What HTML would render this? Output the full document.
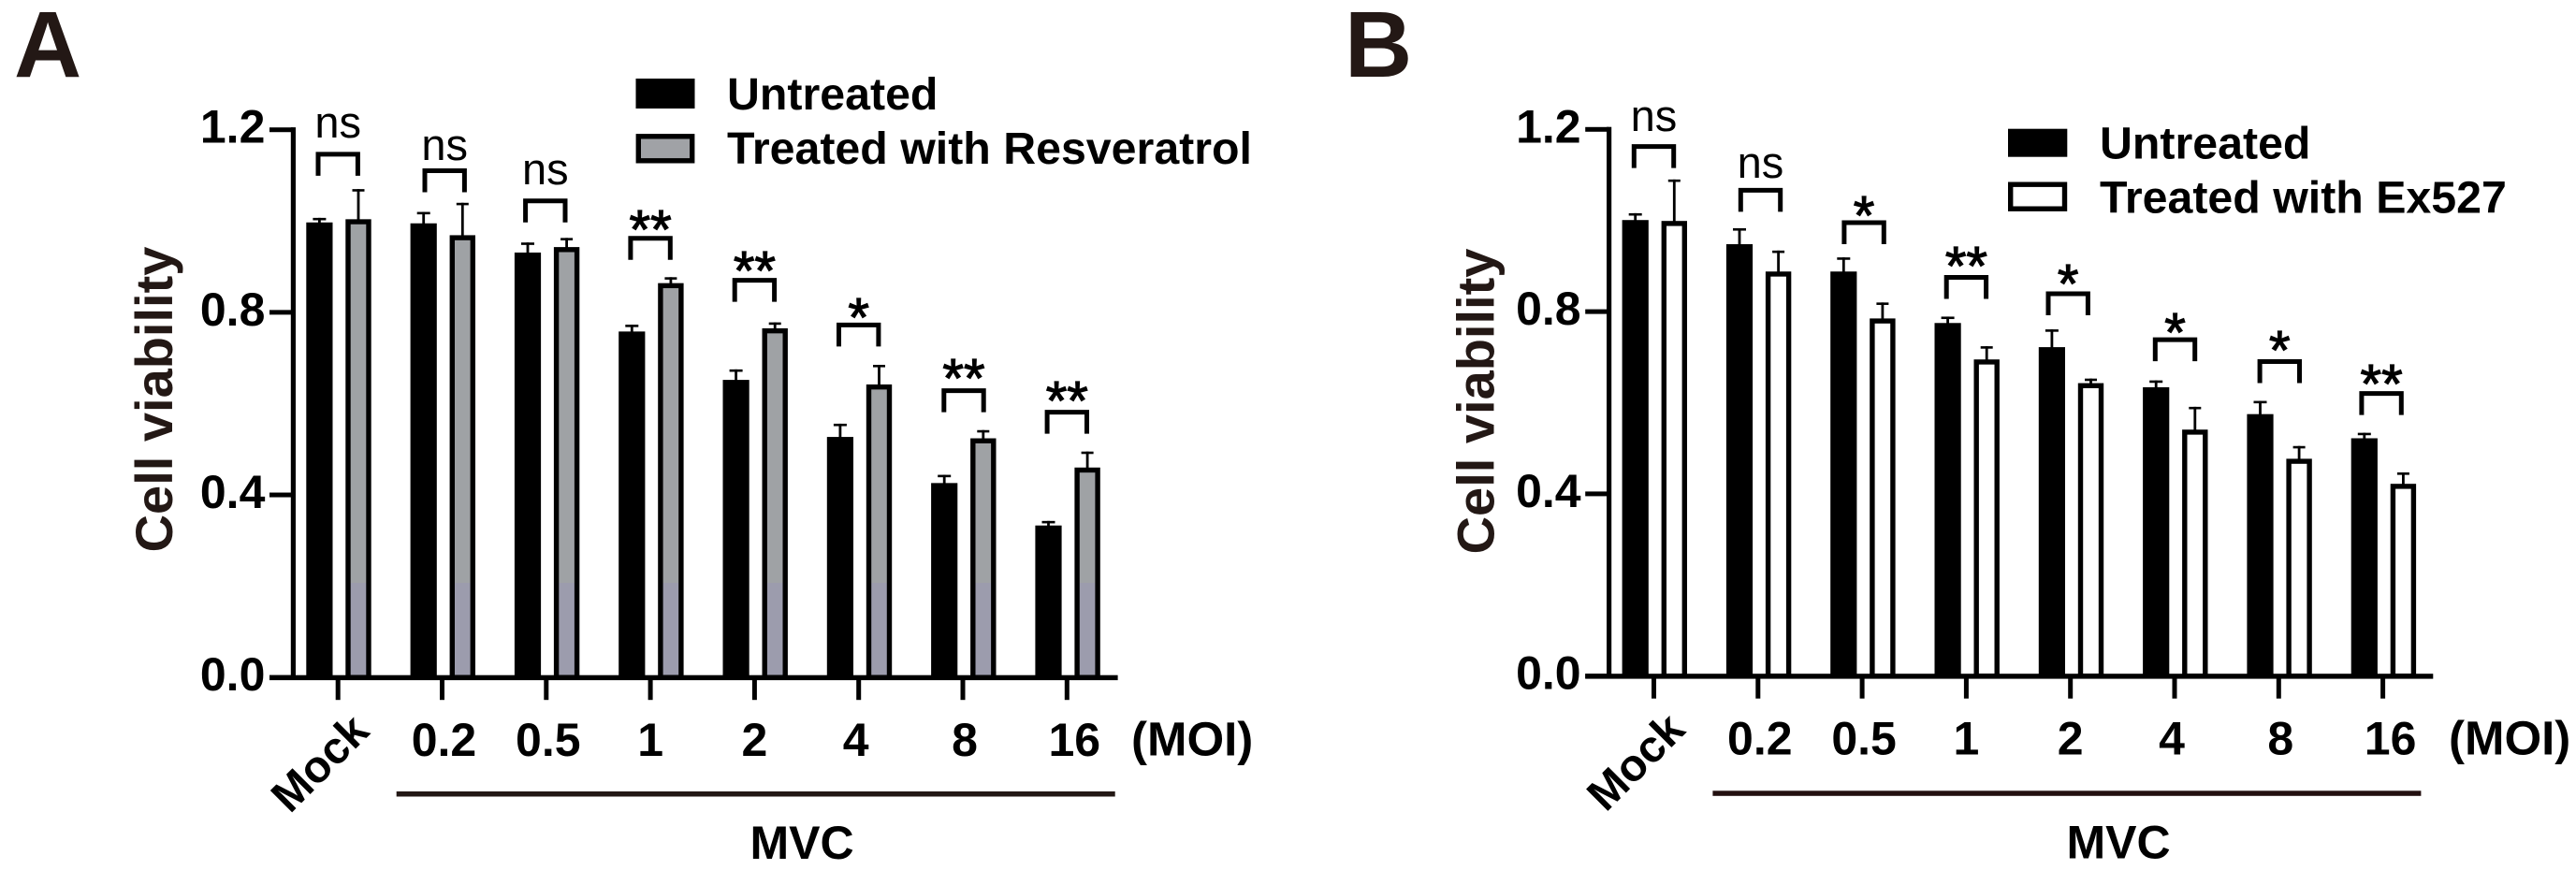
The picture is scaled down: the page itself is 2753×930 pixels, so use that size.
<!DOCTYPE html>
<html lang="en">
<head>
<meta charset="utf-8">
<title>Cell viability charts</title>
<style>
html,body{margin:0;padding:0;background:#fff;}
svg{display:block;}
text{font-family:"Liberation Sans",Arial,sans-serif;}
.b{font-weight:bold;}
</style>
</head>
<body>
<svg id="figure" xmlns="http://www.w3.org/2000/svg" width="2753" height="930" viewBox="0 0 2753 930">
  <defs>
    <linearGradient id="grayFill" gradientUnits="userSpaceOnUse" x1="0" y1="0" x2="0" y2="930">
      <stop offset="0.67" stop-color="#9fa2a5"/>
      <stop offset="0.67" stop-color="#9c9cad"/>
    </linearGradient>
  </defs>
  <rect width="2753" height="930" fill="#fff"/>

  <text class="b" x="15" y="82" font-size="100" fill="#231815">A</text>
  <text class="b" x="1437" y="82" font-size="100" fill="#231815">B</text>

  <text class="b" font-size="56" fill="#231815" text-anchor="middle" transform="translate(184 427) rotate(-90)">Cell viability</text>
  <text class="b" font-size="56" fill="#231815" text-anchor="middle" transform="translate(1596.5 429) rotate(-90)">Cell viability</text>

  <g>
    <rect x="679.5" y="84" width="63" height="32" fill="#000"/>
    <text class="b" x="777" y="117" font-size="48.3" fill="#000">Untreated</text>
    <rect x="682.3" y="145.8" width="57.4" height="26" fill="#a0a2a6" stroke="#000" stroke-width="5.4"/>
    <text class="b" x="777" y="175" font-size="48.3" fill="#000">Treated with Resveratrol</text>
  </g>
  <g>
    <rect x="2146" y="137.7" width="63.3" height="30" fill="#000"/>
    <text class="b" x="2244" y="169.3" font-size="48.3" fill="#000">Untreated</text>
    <rect x="2148.7" y="197.2" width="57.8" height="26" fill="#fff" stroke="#000" stroke-width="5.4"/>
    <text class="b" x="2244" y="227.7" font-size="48.3" fill="#000">Treated with Ex527</text>
  </g>

  <text class="b" x="1209" y="807.7" font-size="51" fill="#000">(MOI)</text>
  <text class="b" x="2617" y="806.7" font-size="51" fill="#000">(MOI)</text>

  <rect x="423.7" y="846" width="768" height="5.5" fill="#231815"/>
  <rect x="1830.4" y="845.3" width="757" height="5.5" fill="#231010"/>
  <text class="b" x="857" y="918" font-size="50" text-anchor="middle" fill="#000">MVC</text>
  <text class="b" x="2264" y="917.7" font-size="50" text-anchor="middle" fill="#000">MVC</text>

  <g id="chart-a"></g>
  <g id="chart-b"></g>
</svg>

<script>
// Shared categories and axis ticks
const categories = ["Mock", "0.2", "0.5", "1", "2", "4", "8", "16"];
const yTickValues = [0, 0.4, 0.8, 1.2];
const yTickLabels = ["0.0", "0.4", "0.8", "1.2"];

// Panel A values
const untreatedMeanA = [0.997, 0.995, 0.931, 0.758, 0.652, 0.527, 0.426, 0.333];
const untreatedSdA = [0.010, 0.025, 0.022, 0.015, 0.023, 0.029, 0.018, 0.010];
const treatedMeanA = [1.004, 0.969, 0.943, 0.864, 0.765, 0.642, 0.524, 0.460];
const treatedSdA = [0.066, 0.071, 0.020, 0.013, 0.013, 0.043, 0.018, 0.035];
const sigLabelsA = ["ns", "ns", "ns", "**", "**", "*", "**", "**"];
const bracketLevelA = [1.151, 1.115, 1.049, 0.967, 0.875, 0.777, 0.633, 0.586];
const sigTextLevelA = [1.183, 1.134, 1.081, 0.940, 0.850, 0.747, 0.614, 0.565];

// Panel B values
const untreatedMeanB = [1.001, 0.948, 0.888, 0.775, 0.722, 0.634, 0.575, 0.522];
const untreatedSdB = [0.015, 0.035, 0.031, 0.014, 0.039, 0.015, 0.029, 0.012];
const treatedMeanB = [0.999, 0.888, 0.785, 0.695, 0.643, 0.541, 0.477, 0.422];
const treatedSdB = [0.091, 0.046, 0.035, 0.029, 0.010, 0.050, 0.028, 0.025];
const sigLabelsB = ["ns", "ns", "*", "**", "*", "*", "*", "**"];
const bracketLevelB = [1.167, 1.071, 1.000, 0.880, 0.844, 0.743, 0.695, 0.625];
const sigTextLevelB = [1.196, 1.094, 0.970, 0.859, 0.820, 0.713, 0.674, 0.600];

const SVG_NS = "http://www.w3.org/2000/svg";

function make(parent, tag, props) {
  const node = document.createElementNS(SVG_NS, tag);
  for (const key in props) node.setAttribute(key, props[key]);
  parent.appendChild(node);
  return node;
}

function drawPanel(cfg) {
  const root = document.getElementById(cfg.id);
  const yPos = v => cfg.y0 - v * cfg.unit;
  const xPos = i => cfg.x0 + i * cfg.step;
  const nudge = [0, 2, 2, 0, 0, -3, 2, 8];
  const n = categories.length;

  // bars and error bars
  for (let i = 0; i < n; i++) {
    const cat = categories[i];
    const cx = xPos(i);

    const bx = cx - 19.8;
    const bTop = yPos(cfg.untreatedMean[i]);
    const bCap = yPos(cfg.untreatedMean[i] + cfg.untreatedSd[i]);
    const stemU = make(root, "rect", {x: bx - 1.4, y: bCap, width: 2.8, height: bTop - bCap + 1, fill: "#000"});
    
    
    const capU = make(root, "rect", {x: bx - 7, y: bCap, width: 14, height: 2.6, fill: "#000"});
    
    
    const barU = make(root, "rect", {x: bx - 14.1, y: bTop, width: 28.2, height: cfg.y0 - bTop, fill: "#000"});
    
    

    const tx = cx + 21.8;
    const tTop = yPos(cfg.treatedMean[i]);
    const tCap = yPos(cfg.treatedMean[i] + cfg.treatedSd[i]);
    const stemT = make(root, "rect", {x: tx - 1.4, y: tCap, width: 2.8, height: tTop - tCap + 1, fill: "#000"});
    
    
    const capT = make(root, "rect", {x: tx - 6.5, y: tCap, width: 13, height: 2.6, fill: "#000"});
    
    
    const barT = make(root, "rect", {x: tx - 11, y: tTop + 2.7, width: 22, height: cfg.y0 - tTop - 2.7, fill: cfg.treatedFill, stroke: "#000", "stroke-width": 5.4});
    
    

    // significance bracket and label
    const bc = cx + cfg.sigNudge[i];
    const lvl = yPos(cfg.bracketLevel[i]);
    const bracket = make(root, "path", {d: "M" + (bc - 21.2) + " " + (lvl + 25.3) + "V" + (lvl + 2.3) + "H" + (bc + 21.2) + "V" + (lvl + 25.3), fill: "none", stroke: "#000", "stroke-width": 5, "stroke-linejoin": "miter"});
    
    
    const isNs = cfg.sigLabels[i] === "ns";
    const sig = make(root, "text", {x: bc, y: yPos(cfg.sigTextLevel[i]), "text-anchor": "middle", "font-size": isNs ? 47 : 58, fill: "#000", stroke: "#000", "stroke-width": isNs ? 0 : 1.2});
    sig.textContent = cfg.sigLabels[i];
    
    

    // x tick
    const xt = make(root, "rect", {x: cx - 2.5, y: cfg.y0 + 2, width: 5, height: 22, fill: "#000"});
    
    

    // x label
    const lab = make(root, "text", {"class": "b", "font-size": i === 0 ? 48 : 50, fill: "#000", "text-anchor": "middle"});
    lab.textContent = cat;
    
    
    if (i === 0) {
      lab.setAttribute("transform", "translate(" + (cx - 20) + " " + (cfg.y0 + 91) + ") rotate(-45) translate(0 17)");
    } else {
      lab.setAttribute("x", cx + nudge[i]);
      lab.setAttribute("y", cfg.y0 + 84);
    }
  }

  // axes
  const yAxis = make(root, "rect", {x: cfg.axisX - 2.6, y: yPos(1.2) - 2.6, width: 5.2, height: cfg.y0 - yPos(1.2) + 5.4, fill: "#000"});
  
  
  const xAxis = make(root, "rect", {x: cfg.axisX - 25.4, y: cfg.y0 - 2.5, width: cfg.axisEnd - cfg.axisX + 25.4, height: 5.4, fill: "#000"});
  
  

  yTickValues.forEach((v, k) => {
    const t = make(root, "rect", {x: cfg.axisX - 25.4, y: yPos(v) - 2.5, width: 25.4, height: 5, fill: "#000"});
    
    
    const l = make(root, "text", {"class": "b", x: cfg.axisX - 30, y: yPos(v) + 14, "text-anchor": "end", "font-size": 50, fill: "#000"});
    l.textContent = yTickLabels[k];
    
    
  });
}

drawPanel({
  id: "chart-a", x0: 361.2, step: 111.3, y0: 724.2, unit: 487.9, axisX: 313.4, axisEnd: 1194.6,
  treatedFill: "url(#grayFill)",
  untreatedMean: untreatedMeanA, untreatedSd: untreatedSdA,
  treatedMean: treatedMeanA, treatedSd: treatedSdA,
  sigLabels: sigLabelsA, bracketLevel: bracketLevelA, sigTextLevel: sigTextLevelA,
  sigNudge: [0, 2.7, -1, 0, 0, 0, 1, 0]
});
drawPanel({
  id: "chart-b", x0: 1767.5, step: 111.3, y0: 722.7, unit: 487, axisX: 1719.6, axisEnd: 2600.3,
  treatedFill: "#fff",
  untreatedMean: untreatedMeanB, untreatedSd: untreatedSdB,
  treatedMean: treatedMeanB, treatedSd: treatedSdB,
  sigLabels: sigLabelsB, bracketLevel: bracketLevelB, sigTextLevel: sigTextLevelB,
  sigNudge: [0, 2.7, 2, 0, -2.5, 0.5, 1, -1.5]
});
</script>
</body>
</html>
